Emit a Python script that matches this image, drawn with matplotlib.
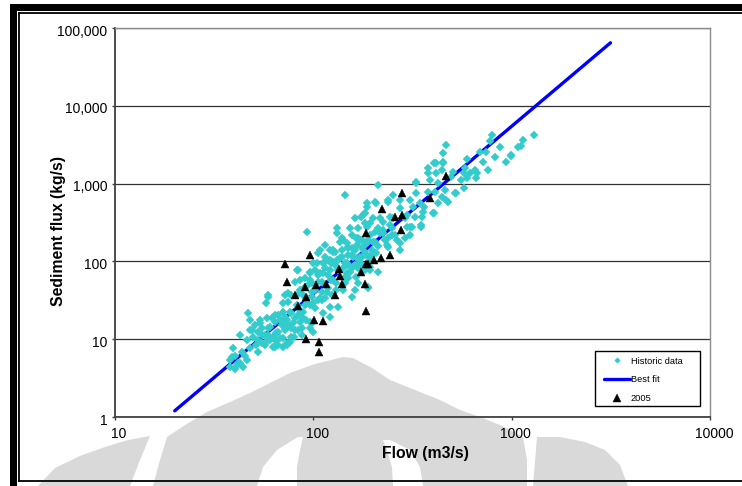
import matplotlib
matplotlib.use("Agg")
import matplotlib.pyplot as plt
import matplotlib.patches as mpatches
import matplotlib.lines as mlines
from matplotlib.transforms import ScaledTranslation
import numpy as np

plt.rcParams['font.family'] = ['Liberation Sans', 'DejaVu Sans']

# ---------------- data ----------------
hist_flow = [
    58.8, 58, 47, 53.8, 47.9, 52.7, 60.4, 64, 66.5, 62.7, 70.4, 59.2, 71.9, 76.1, 80.7, 77.6, 85.5, 83.8, 76.1, 54.9,
    52.7, 47.9, 45.2, 39.5, 40.2, 41.8, 44.4, 38, 40.2, 70.4, 64, 57, 66.5, 74.7, 77.6, 90.6, 83.8, 96, 87.2, 100,
    59.2, 70.4, 74.7, 82.3, 77.6, 87.2, 96, 87.2, 80.7, 77.6, 48.9, 53.8, 60.4, 67.8, 73.3, 62.7, 42.7, 38, 97.9, 112,
    121, 121, 133, 96, 46.1, 41,
    93, 83.8, 96, 131, 141, 126, 108, 121, 100, 108, 147, 181, 182, 156, 168, 193, 136, 150, 182, 128,
    114, 139, 159, 189, 104, 123, 144, 171, 96, 112, 156, 193, 106, 123, 150, 168, 80.7, 90.6, 110, 141,
    162, 189, 114, 156, 97.9,
    212, 144, 331, 238, 306, 186, 208, 182, 216, 273, 319, 289, 131, 153, 193, 243, 295, 216, 257, 289,
    139, 165, 189, 234, 273, 121, 150, 208, 171, 106, 131, 112, 162, 193, 82.3, 147, 165, 212, 189,
    451, 378, 443, 386, 331, 331, 378, 252, 238, 273, 344, 204, 186, 401, 358, 325, 351, 295, 243, 225,
    306, 162, 174, 200, 186, 225, 306, 248, 171, 200, 273, 238,
    800, 1300, 1140, 1075, 1119, 465, 775, 870, 690, 821, 997, 940, 717, 451, 451, 417, 760, 651, 664, 614,
    580, 506, 497, 558, 592, 417, 425, 460, 409, 516, 443, 469, 425, 746, 989, 598, 575, 672, 575, 522,
    475, 406, 362, 355, 316, 348, 377, 406,
    55.1, 59, 64.8, 69.4, 73.6, 78.8, 71.9, 67.8, 61.9, 82.6, 88.5, 92.8, 102, 100, 108, 115, 106, 114, 125, 133,
    144, 136, 149, 162, 175, 166, 182, 175, 198, 204, 211, 166, 125, 118, 130, 93.7, 85.5, 96, 52.5, 57,
    49.5, 46.3, 43.7, 73.6,
    55.1, 50.7, 58.1, 64.8, 70.4, 74.7, 79.8, 86.6, 91.7, 102, 110, 98.8, 118, 128, 139, 150, 157, 168, 175, 193,
    204, 229, 249, 168, 115, 144, 124, 85.5, 71.9, 47.9, 42.7, 38.9,
    88.5, 93.8, 98.3, 105.6, 110.6, 116.7, 121, 129.5, 132.5, 140.8, 153, 156.7, 166, 175, 182, 188.5, 197.6, 211,
    223.6, 237, 251.5, 263, 147.5, 125, 115, 102, 90.6, 83.5, 71.9, 64, 59, 66.2, 51.3,
]
hist_flux = [
    35, 29, 22, 17.6, 13.1, 12.5, 14.4, 16.7, 12.5, 10.7, 10.3, 9.8, 19.5, 22.5, 18.5, 13.8, 16.7, 13.1, 9.3, 8.9,
    6.9, 7.6, 6.0, 7.6, 6.0, 4.9, 4.4, 5.4, 4.2, 8.0, 8.0, 11.3, 20.5, 30.3, 37, 27.5, 24.9, 16.7, 11.3, 12.5,
    37, 28.9, 38.9, 37, 21.6, 19.5, 13.8, 13.8, 13.1, 10.7, 13.1, 16, 9.8, 10.3, 8.9, 8.0, 4.9, 4.4, 16, 21.6,
    19.5, 26.1, 26.1, 27.5, 5.4, 4.7,
    241, 77.5, 70, 229, 188, 140, 140, 104, 95, 70, 95, 407, 309, 218, 198, 218, 179, 155, 163, 133,
    115, 115, 115, 115, 95, 95, 95, 95, 73, 70, 81.5, 77.5, 54.8, 57.7, 60.7, 52.4, 54.8, 47.3, 40.8, 42.9,
    42.9, 45.1, 33.6, 35.2, 35.2,
    959, 713, 1010, 615, 615, 559, 559, 416, 359, 482, 505, 359, 266, 266, 309, 294, 279, 229, 218, 198,
    198, 198, 179, 163, 140, 140, 147, 127, 115, 127, 104, 95, 90, 85.5, 77.5, 70.4, 63.6, 73.7, 47.3,
    1824, 1574, 1496, 1112, 1057, 750, 787, 713, 585, 615, 559, 585, 505, 416, 435, 375, 294, 395, 375, 324,
    279, 359, 375, 359, 279, 229, 218, 218, 188, 179, 171, 155,
    4200, 4200, 3630, 2930, 3040, 3130, 3560, 2980, 2570, 2220, 2270, 1910, 1910, 2450, 1910, 1820, 1500, 1496, 1170, 1360,
    1570, 1420, 1230, 1110, 1170, 1360, 1010, 828, 787, 750, 678, 615, 559, 2570, 2330, 2050, 1360, 1360, 870, 750,
    585, 416, 505, 375, 279, 279, 1360, 1824,
    11.3, 13.9, 12, 15.2, 17.6, 16.1, 13.1, 17.6, 18.7, 27.5, 22.3, 33.8, 42.9, 29.2, 33.8, 49.8, 66.9, 82.2, 57.7, 77.5,
    63, 110, 121, 140, 114, 90, 77.5, 149, 140, 177, 268, 163, 98, 45.5, 42.9, 49.8, 42.9, 57.7, 9.8, 8.4,
    10.6, 9.8, 6.8, 8.4,
    13.9, 15.2, 18.7, 9.5, 22.3, 15.2, 10.7, 22.3, 17.6, 25.2, 31.9, 52.9, 66.9, 90, 140, 90, 149, 82, 188, 110,
    238, 188, 268, 266, 163, 52.9, 37, 57.7, 37, 17.6, 11.3, 5.9,
    37, 29.2, 40.4, 31.9, 54.4, 40.4, 77.5, 52.8, 104, 82.2, 73, 121, 110, 90, 132, 188, 124.6, 158,
    253, 199, 362, 188, 173, 132, 98, 77.5, 61.2, 20.5, 16.6, 20.5, 11.3, 8.42, 8.42,
]

y2005_flow = [71.8, 95.9, 73.3, 80.7, 83.7, 90.6, 91.4, 102.6, 115.6, 128.3, 134.3, 135.8, 140.3, 173.4, 181.6,
              185.3, 183.3, 100.9, 112, 91.4, 106.6, 106.2, 183.6, 242.6, 218.3, 202.3, 188.8, 469, 389, 279,
              221, 258, 280, 276]
y2005_flux = [93.4, 122, 53.9, 36.7, 27.0, 46.5, 34.6, 49.7, 51.7, 37.3, 79.8, 64.3, 50.8, 72.4, 51.7,
              93.4, 22.8, 17.5, 17.3, 10.0, 9.1, 6.9, 230, 121, 109.6, 104.2, 92.6, 1253, 659, 750,
              467, 375, 391, 253]

fit_coef = 0.001897
fit_exp = 2.153
fit_flow_range = [20, 3150]

x_ticks = [10, 100, 1000, 10000]
x_tick_labels = ['10', '100', '1000', '10000']
y_ticks = [1, 10, 100, 1000, 10000, 100000]
y_tick_labels = ['1', '10', '100', '1,000', '10,000', '100,000']

series_labels = ['Historic data', 'Best fit', '2005']
x_label = 'Flow (m3/s)'
y_label = 'Sediment flux (kg/s)'

# ---------------- figure ----------------
W, H = 742, 486
fig = plt.figure(figsize=(W / 100, H / 100), dpi=100)
fig.patch.set_facecolor('white')


def fpt(pts):
    return [(x / W, 1 - y / H) for x, y in pts]


# faint watermark in the background
wm_color = '#d9d9d9'
dome = [(153, 486), (160, 460), (167, 437), (185, 425), (207, 412), (230, 402), (250, 393), (270, 383),
        (290, 373), (315, 364), (343, 357), (353, 358), (372, 368), (390, 380), (415, 390), (440, 400),
        (460, 410), (480, 417), (500, 425), (510, 430), (523, 437), (527, 460), (527, 486)]
left_piece = [(38, 486), (55, 468), (80, 456), (105, 447), (128, 440), (150, 436), (140, 460), (130, 486)]
right_piece = [(533, 486), (537, 437), (560, 437), (585, 442), (605, 450), (620, 465), (628, 486)]
stripe1 = [(257, 486), (263, 467), (277, 450), (298, 437), (303, 437), (300, 450), (297, 467), (297, 486)]
stripe2 = [(393, 486), (392, 467), (387, 450), (383, 440), (390, 440), (410, 450), (420, 467), (423, 486)]
for shp, col in [(dome, wm_color), (left_piece, wm_color), (right_piece, wm_color),
                 (stripe1, 'white'), (stripe2, 'white')]:
    fig.patches.append(mpatches.Polygon(fpt(shp), closed=True, transform=fig.transFigure,
                                        facecolor=col, edgecolor='none', zorder=-5))

# outer frame decoration
fig.patches.append(mpatches.Rectangle((10 / W, 1 - 11 / H), (W - 10) / W, 7 / H, transform=fig.transFigure,
                                      facecolor='black', edgecolor='none', zorder=-4))
fig.patches.append(mpatches.Rectangle((10 / W, 0), 7 / W, 1 - 4 / H, transform=fig.transFigure,
                                      facecolor='black', edgecolor='none', zorder=-4))
for (x0, y0, x1, y1) in [(19, 13.5, W, 13.5), (19, 13.5, 19, 481), (19, 481, W, 481)]:
    fig.lines.append(mlines.Line2D([x0 / W, x1 / W], [1 - y0 / H, 1 - y1 / H], transform=fig.transFigure,
                                   color='black', lw=1.3, zorder=-4))

# axes
L, R, T, B = 115, 710, 28, 417
ax = fig.add_axes([L / W, 1 - B / H, (R - L) / W, (B - T) / H])
ax.set_facecolor('none')
ax.set_xscale('log')
ax.set_yscale('log')
ax.set_xlim(10, 10000)
ax.set_ylim(1, 100000)

ax.set_xticks(x_ticks)
ax.set_xticklabels(x_tick_labels)
ax.set_yticks(y_ticks)
ax.set_yticklabels(y_tick_labels)
ax.minorticks_off()
ax.tick_params(axis='both', which='major', direction='out', length=2.5, width=1, color='#404040',
               labelsize=10, labelcolor='black')
ax.tick_params(axis='x', pad=4.8)
ax.tick_params(axis='y', pad=3.0)
for lab in ax.get_xticklabels():
    lab.set_transform(lab.get_transform() + ScaledTranslation(4 / 100, 0, fig.dpi_scale_trans))
for lab in ax.get_yticklabels():
    lab.set_transform(lab.get_transform() + ScaledTranslation(0, -2 / 100, fig.dpi_scale_trans))

ax.yaxis.grid(True, color='#303030', lw=0.9)
ax.xaxis.grid(False)
ax.set_axisbelow(True)

for s in ['left', 'bottom']:
    ax.spines[s].set_color('#404040')
    ax.spines[s].set_linewidth(1.3)
for s in ['top', 'right']:
    ax.spines[s].set_color('#8c8c8c')
    ax.spines[s].set_linewidth(1.0)

# best fit line
fit_x = np.geomspace(fit_flow_range[0], fit_flow_range[1], 60)
fit_y = fit_coef * fit_x ** fit_exp
line_fit, = ax.plot(fit_x, fit_y, color='#0000ff', lw=2.4, solid_capstyle='round', zorder=2,
                    label=series_labels[1])

# historic data
hist_pts, = ax.plot(hist_flow, hist_flux, linestyle='none', marker='D', markersize=3.8,
                    markerfacecolor='#33cccc', markeredgecolor='#33cccc', markeredgewidth=0.3,
                    zorder=3, label=series_labels[0])

# 2005
pts2005, = ax.plot(y2005_flow, y2005_flux, linestyle='none', marker='^', markersize=6.0,
                   markerfacecolor='black', markeredgecolor='black', markeredgewidth=0.3,
                   zorder=4, label=series_labels[2])

# legend
leg_box = mpatches.Rectangle((595.3 / W, 1 - 406.3 / H), (699.7 - 595.3) / W, (406.3 - 351.3) / H,
                             transform=fig.transFigure, facecolor='white', edgecolor='black', lw=1.0,
                             zorder=-3)
fig.patches.append(leg_box)
leg = ax.legend([hist_pts, line_fit, pts2005], series_labels, loc='upper left',
                bbox_to_anchor=(604 / W, 1 - 356.5 / H), bbox_transform=fig.transFigure,
                frameon=False, fontsize=6.7, handlelength=2.8, handletextpad=0.1,
                labelspacing=1.05, borderpad=0, borderaxespad=0, numpoints=1)
for h in leg.legend_handles:
    if h.get_marker() == 'D':
        h.set_markersize(2.8)
    elif h.get_marker() == '^':
        h.set_markersize(5.4)

# axis labels
fig.text(425.8 / W, 1 - 453.3 / H, x_label, ha='center', va='center', fontsize=11.3, fontweight='bold')
fig.text(58.5 / W, 1 - 230.5 / H, y_label, ha='center', va='center', rotation=90, fontsize=11.3,
         fontweight='bold')

fig.savefig('out.png', dpi=100)
